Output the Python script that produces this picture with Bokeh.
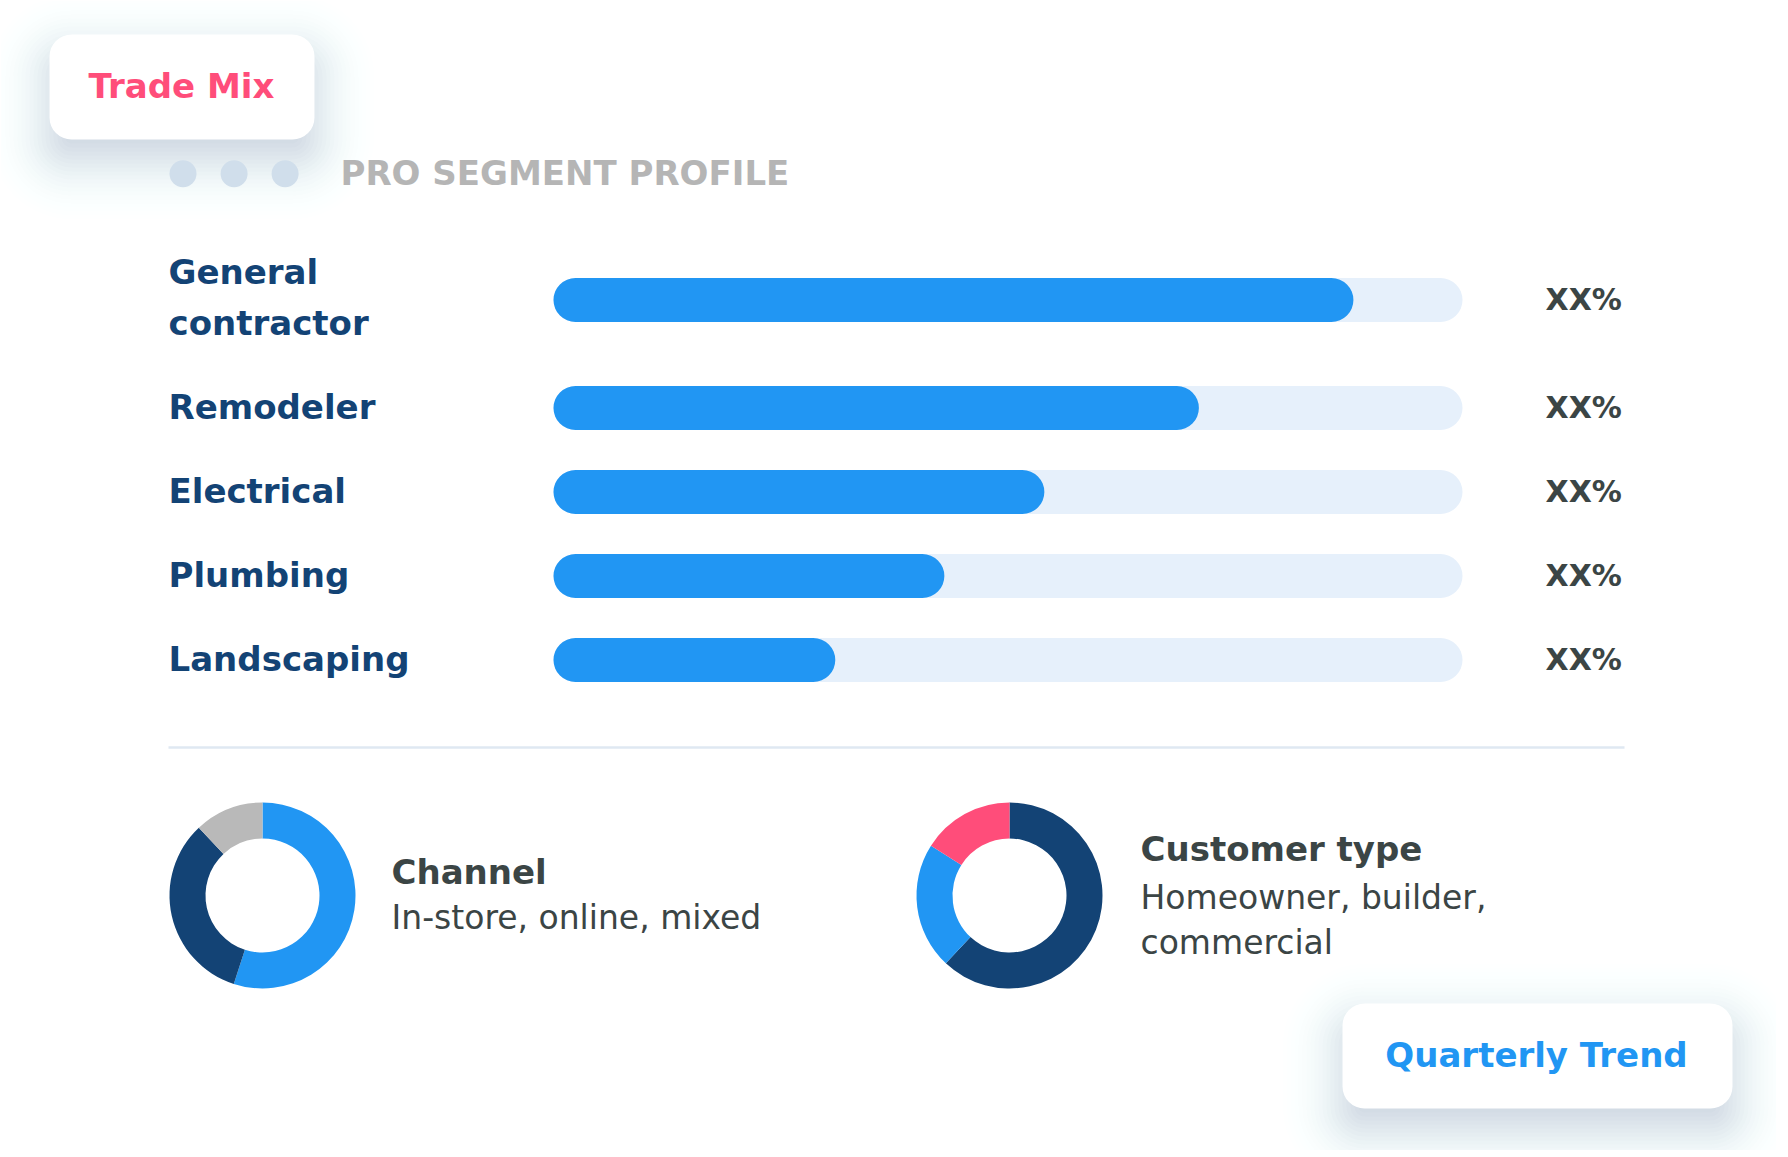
from bokeh.plotting import figure
from bokeh.models import Range1d
from bokeh.core.properties import value
from bokeh.embed import file_html
from bokeh.resources import INLINE
import math

# ---------------- data ----------------
segments = ["General contractor", "Remodeler", "Electrical", "Plumbing", "Landscaping"]
segment_share = [88, 71, 54, 43, 31]
segment_value_labels = ["XX%", "XX%", "XX%", "XX%", "XX%"]

channel_parts = ["In-store", "Online", "Mixed"]
channel_share = [55, 33, 12]
customer_parts = ["Homeowner", "Builder", "Commercial"]
customer_share = [62, 22, 16]

title_tag = "Trade Mix"
section_title = "PRO SEGMENT PROFILE"
channel_title = "Channel"
channel_sub = ["In-store, online, mixed"]
customer_title = "Customer type"
customer_sub = ["Homeowner, builder,", "commercial"]
trend_tag = "Quarterly Trend"

# ---------------- styling ----------------
NAVY = "#134375"
BLUE = "#2196f3"
TRACK = "#e6f0fb"
GRAY_TXT = "#3b4545"
PINK = "#ff4d7a"
LIGHTGRAY = "#b9b9b9"
FONT = value("DejaVu Sans")
TY = -11.5  # baseline correction for text placement

W, H = 1776, 1150


def sy(s):
    # page pixel row -> data y (y grows upward)
    return H - s


def ty(s):
    return sy(s + TY)


p = figure(width=W, height=H, x_range=Range1d(0, W), y_range=Range1d(0, H),
           output_backend="svg", toolbar_location=None, x_axis_type=None, y_axis_type=None,
           min_border=0, outline_line_color=None,
           background_fill_color="white", border_fill_color="white")
p.grid.visible = False

# percentage scale for bars: 0..100 spans the track
TRACK_L, TRACK_R = 553, 1462
span = (TRACK_R - TRACK_L) / 100.0
p.extra_x_ranges = {"pct": Range1d(start=(0 - TRACK_L) / span, end=(W - TRACK_L) / span)}


def card(x0, x1, y0, y1, radius=22):
    sigma = 28.0
    total = 0.42
    oy = 20
    es = list(range(-68, 69, 4))
    ws = [math.exp(-e * e / (2 * sigma * sigma)) for e in es]
    norm = sum(ws)
    for e, w in sorted(zip(es, ws), key=lambda t: -t[0]):
        a = total * w / norm
        if x1 + e <= x0 - e or y1 + e <= y0 - e:
            continue
        p.quad(left=[x0 - e], right=[x1 + e], top=[sy(y0 - e + oy)], bottom=[sy(y1 + e + oy)],
               fill_color="#6f87a8", fill_alpha=a, line_color=None,
               border_radius=int(max(0, radius + e)))
    p.quad(left=[x0], right=[x1], top=[sy(y0)], bottom=[sy(y1)],
           fill_color="white", line_color=None, border_radius=radius)


# ---------------- cards ----------------
card(49, 314, 34, 139)
card(1342, 1732, 1003, 1108)

p.text(x=[181], y=[ty(97)], text=[title_tag], text_font=FONT, text_font_style="bold",
       text_font_size="34px", text_color=PINK, text_align="center", text_baseline="alphabetic")
p.text(x=[1536], y=[ty(1066)], text=[trend_tag], text_font=FONT, text_font_style="bold",
       text_font_size="34px", text_color=BLUE, text_align="center", text_baseline="alphabetic")

# ---------------- header ----------------
p.scatter(x=[182.5, 233.6, 284.6], y=[sy(173.3)] * 3, size=27, fill_color="#d0deeb", line_color=None)
p.text(x=[340], y=[ty(184)], text=[section_title], text_font=FONT, text_font_style="bold",
       text_font_size="34px", text_color="#b5b5b5", text_align="left", text_baseline="alphabetic")

# ---------------- bars ----------------
rows = [299.5] + [407.5 + 84 * i for i in range(len(segments) - 1)]
row_y = [sy(r) for r in rows]

p.hbar(y=row_y, left=0, right=[100] * len(segments), height=44, x_range_name="pct",
       fill_color=TRACK, line_color=None, border_radius=22)
p.hbar(y=row_y, left=0, right=segment_share, height=44, x_range_name="pct",
       fill_color=BLUE, line_color=None, border_radius=22)

lab_x, lab_y, lab_t = [], [], []
for name, r in zip(segments, rows):
    if len(name) > 12:
        parts = name.split(" ")
        lab_t += parts
        lab_y += [ty(r - 16.5), ty(r + 34.5)]
        lab_x += [168, 168]
    else:
        lab_t.append(name)
        lab_y.append(ty(r + 10.5))
        lab_x.append(168)
p.text(x=lab_x, y=lab_y, text=lab_t, text_font=FONT, text_font_style="bold",
       text_font_size="34px", text_color=NAVY, text_align="left", text_baseline="alphabetic")

p.text(x=[1545] * len(segments), y=[ty(r + 10.5) for r in rows], text=segment_value_labels,
       text_font=FONT, text_font_style="bold", text_font_size="30px", text_color=GRAY_TXT,
       text_align="left", text_baseline="alphabetic")

# separator
p.segment(x0=[168], x1=[1624], y0=[sy(747)], y1=[sy(747)], line_color="#dfe8f2", line_width=2.5)


# ---------------- donuts ----------------
def donut(cx, cy, shares, colors):
    tot = float(sum(shares))
    starts, ends = [], []
    acc = 0.0
    for s in shares:
        starts.append(math.pi / 2 - 2 * math.pi * acc / tot)
        acc += s
        ends.append(math.pi / 2 - 2 * math.pi * acc / tot)
    p.annular_wedge(x=[cx] * len(shares), y=[sy(cy)] * len(shares), inner_radius=57,
                    outer_radius=93, start_angle=starts, end_angle=ends, direction="clock",
                    fill_color=colors, line_color=None)


donut(262, 895, channel_share, [BLUE, NAVY, LIGHTGRAY])
donut(1009, 895, customer_share, [NAVY, BLUE, PINK])

p.text(x=[391], y=[ty(883)], text=[channel_title], text_font=FONT, text_font_style="bold",
       text_font_size="34px", text_color=GRAY_TXT, text_baseline="alphabetic")
p.text(x=[391], y=[ty(928)], text=channel_sub, text_font=FONT,
       text_font_size="33px", text_color=GRAY_TXT, text_baseline="alphabetic")
p.text(x=[1140], y=[ty(860)], text=[customer_title], text_font=FONT, text_font_style="bold",
       text_font_size="34px", text_color=GRAY_TXT, text_baseline="alphabetic")
p.text(x=[1140, 1140], y=[ty(908), ty(953)], text=customer_sub, text_font=FONT,
       text_font_size="33px", text_color=GRAY_TXT, text_baseline="alphabetic")

open("out.html", "w").write(file_html(p, INLINE))
